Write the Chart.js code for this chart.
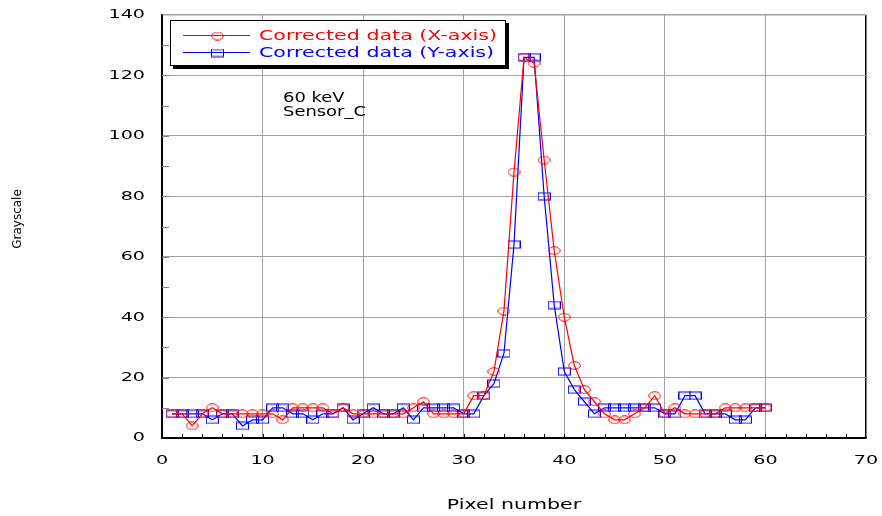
<!DOCTYPE html>
<html>
<head>
<meta charset="utf-8">
<title>Corrected data profile</title>
<script src="https://cdn.jsdelivr.net/npm/chart.js@4.4.1/dist/chart.umd.min.js"></script>
<style>
  html, body { margin: 0; padding: 0; background: #fff; }
  #wrap { width: 882px; height: 516px; }
</style>
</head>
<body>
<div id="wrap"><canvas id="profile-chart" width="882" height="516"></canvas></div>
<script>
// pixel index along the sensor
const pixels = [1, 2, 3, 4, 5, 6, 7, 8, 9, 10, 11, 12, 13, 14, 15, 16, 17, 18, 19, 20,
  21, 22, 23, 24, 25, 26, 27, 28, 29, 30, 31, 32, 33, 34, 35, 36, 37, 38, 39, 40,
  41, 42, 43, 44, 45, 46, 47, 48, 49, 50, 51, 52, 53, 54, 55, 56, 57, 58, 59, 60];

// grayscale
const xAxisGray = [8, 8, 4, 8, 10, 8, 8, 8, 8, 8, 8, 6, 10, 10, 10, 10, 8, 10, 8, 8,
  8, 8, 8, 8, 10, 12, 8, 8, 8, 8, 14, 14, 22, 42, 88, 126, 124, 92, 62, 40,
  24, 16, 12, 8, 6, 6, 8, 10, 14, 8, 10, 8, 8, 8, 8, 10, 10, 10, 10, 10];
const yAxisGray = [8, 8, 8, 8, 6, 8, 8, 4, 6, 6, 10, 10, 8, 8, 6, 8, 8, 10, 6, 8,
  10, 8, 8, 10, 6, 10, 10, 10, 10, 8, 8, 14, 18, 28, 64, 126, 126, 80, 44, 22,
  16, 12, 8, 10, 10, 10, 10, 10, 10, 8, 8, 14, 14, 8, 8, 8, 6, 6, 10, 10];

const xTicks = [0, 10, 20, 30, 40, 50, 60, 70];
const yTicks = [0, 20, 40, 60, 80, 100, 120, 140];
const seriesNames = ["Corrected data (X-axis)", "Corrected data (Y-axis)"];
const noteLines = ["60 keV", "Sensor_C"];

const FONT = "DejaVu Sans";
const WIDE = 1.47; // the original text is stretched sideways

// markers: the original ones are wider than tall
function makeMarker(kind, color) {
  let c = document.createElement("canvas");
  c.width = 13;
  c.height = 9;
  let g = c.getContext("2d");
  g.strokeStyle = color;
  g.lineWidth = 1;
  if (kind === "ellipse") {
    g.beginPath();
    g.ellipse(6.5, 4.5, 5.8, 3.8, 0, 0, Math.PI * 2);
    g.stroke();
  } else {
    g.strokeRect(0.5, 1, 12, 7);
  }
  return c;
}

const redMarker = makeMarker("ellipse", "#ff0000");
const blueMarker = makeMarker("rect", "#0000ff");

function toPoints(vals) {
  return pixels.map((p, i) => ({ x: p, y: vals[i] }));
}

const baseFillText = CanvasRenderingContext2D.prototype.fillText;
function fillWide(ctx, text, x, y, k) {
  ctx.save();
  ctx.translate(x, y);
  ctx.scale(k, 1);
  baseFillText.call(ctx, text, 0, 0);
  ctx.restore();
}

// stretch the text chart.js draws (ticks, axis title)
const wideTextPlugin = {
  id: "wideText",
  beforeInit(chart) {
    chart.ctx.fillText = function (text, x, y) {
      fillWide(this, text, x, y, WIDE);
    };
  }
};

// inner minor ticks, legend box, note text and y title
const decorPlugin = {
  id: "decor",
  beforeDatasetsDraw(chart) {
    let ctx = chart.ctx;
    let xs = chart.scales.x, ys = chart.scales.y;
    let area = chart.chartArea;
    ctx.save();
    ctx.lineWidth = 1;
    ctx.strokeStyle = "#808080";
    for (let v = 10; v < 140; v += 10) {
      let py = Math.round(ys.getPixelForValue(v)) + 0.5;
      ctx.beginPath();
      ctx.moveTo(area.left, py);
      ctx.lineTo(area.left + 7, py);
      ctx.stroke();
    }
    ctx.strokeStyle = "#000";
    for (let v = 2; v < 70; v += 2) {
      let px = Math.round(xs.getPixelForValue(v)) + 0.5;
      ctx.beginPath();
      ctx.moveTo(px, area.bottom);
      ctx.lineTo(px, area.bottom - 4);
      ctx.stroke();
    }
    ctx.restore();
  },
  afterDraw(chart) {
    let ctx = chart.ctx;
    ctx.save();

    // legend box with drop shadow
    ctx.fillStyle = "#000";
    ctx.fillRect(173, 23, 336, 46);
    ctx.fillStyle = "#fff";
    ctx.fillRect(170, 20, 336, 46);
    ctx.strokeStyle = "#000";
    ctx.lineWidth = 1;
    ctx.strokeRect(170.5, 20.5, 335, 45);

    ctx.font = "14px '" + FONT + "'";
    ctx.textBaseline = "middle";
    ctx.textAlign = "left";
    chart.data.datasets.forEach((ds, i) => {
      let y = 35 + i * 17;
      ctx.strokeStyle = ds.borderColor;
      ctx.lineWidth = 1;
      ctx.beginPath();
      ctx.moveTo(183, y + 0.5);
      ctx.lineTo(250, y + 0.5);
      ctx.stroke();
      let m = ds.pointStyle;
      ctx.drawImage(m, Math.round(217 - m.width / 2), Math.round(y - m.height / 2) + 0.5);
      ctx.fillStyle = ds.borderColor;
      fillWide(ctx, ds.label, 259, y + 1, WIDE);
    });

    // sample note
    ctx.fillStyle = "#000";
    fillWide(ctx, noteLines[0], 283, 98, 1.28);
    fillWide(ctx, noteLines[1], 283, 112, 1.28);

    // y axis title, not stretched
    ctx.font = "12px '" + FONT + "'";
    ctx.textAlign = "center";
    ctx.translate(18, 219);
    ctx.rotate(-Math.PI / 2);
    baseFillText.call(ctx, "Grayscale", 0, 0);
    ctx.restore();
  }
};

let canvas = document.getElementById("profile-chart");
let profileChart = new Chart(canvas.getContext("2d"), {
  type: "line",
  data: {
    datasets: [
      {
        label: seriesNames[0],
        data: toPoints(xAxisGray),
        borderColor: "#ff0000",
        borderWidth: 1.2,
        pointStyle: redMarker,
        pointRadius: 6,
        fill: false,
        tension: 0
      },
      {
        label: seriesNames[1],
        data: toPoints(yAxisGray),
        borderColor: "#0000ff",
        borderWidth: 1.2,
        pointStyle: blueMarker,
        pointRadius: 6,
        fill: false,
        tension: 0
      }
    ]
  },
  options: {
    responsive: false,
    animation: false,
    devicePixelRatio: 1,
    layout: { padding: { top: 15, right: 16, left: 0, bottom: 0 } },
    plugins: {
      legend: { display: false },
      tooltip: { enabled: false }
    },
    scales: {
      x: {
        type: "linear",
        min: 0,
        max: 70,
        afterBuildTicks: (sc) => { sc.ticks = xTicks.map((v) => ({ value: v })); },
        afterFit: (sc) => {
          sc.height = 78;
          sc.paddingLeft = 0;
          sc.paddingRight = 0;
        },
        grid: {
          drawTicks: false,
          color: (c) => (c.tick.value === 70 || c.tick.value === 0 ? "#000" : "#a0a0a0"),
          lineWidth: (c) => (c.tick.value === 70 ? 1.5 : 1)
        },
        border: { color: "#000", width: 1.5 },
        ticks: {
          padding: 15,
          maxRotation: 0,
          color: "#000",
          font: { family: FONT, size: 13 }
        },
        title: {
          display: true,
          text: "Pixel number",
          color: "#000",
          font: { family: FONT, size: 14 },
          padding: { top: 0, bottom: 2 }
        }
      },
      y: {
        type: "linear",
        min: 0,
        max: 140,
        afterBuildTicks: (sc) => { sc.ticks = yTicks.map((v) => ({ value: v })); },
        afterFit: (sc) => {
          sc.width = 162;
          sc.paddingTop = 0;
          sc.paddingBottom = 0;
        },
        grid: {
          drawTicks: false,
          color: (c) => (c.tick.value === 0 ? "#000" : "#a0a0a0"),
          lineWidth: (c) => (c.tick.value === 140 ? 1.5 : 1)
        },
        border: { color: "#000", width: 1.5 },
        ticks: {
          padding: 17,
          color: "#000",
          font: { family: FONT, size: 13 }
        }
      }
    }
  },
  plugins: [wideTextPlugin, decorPlugin]
});
</script>
</body>
</html>
